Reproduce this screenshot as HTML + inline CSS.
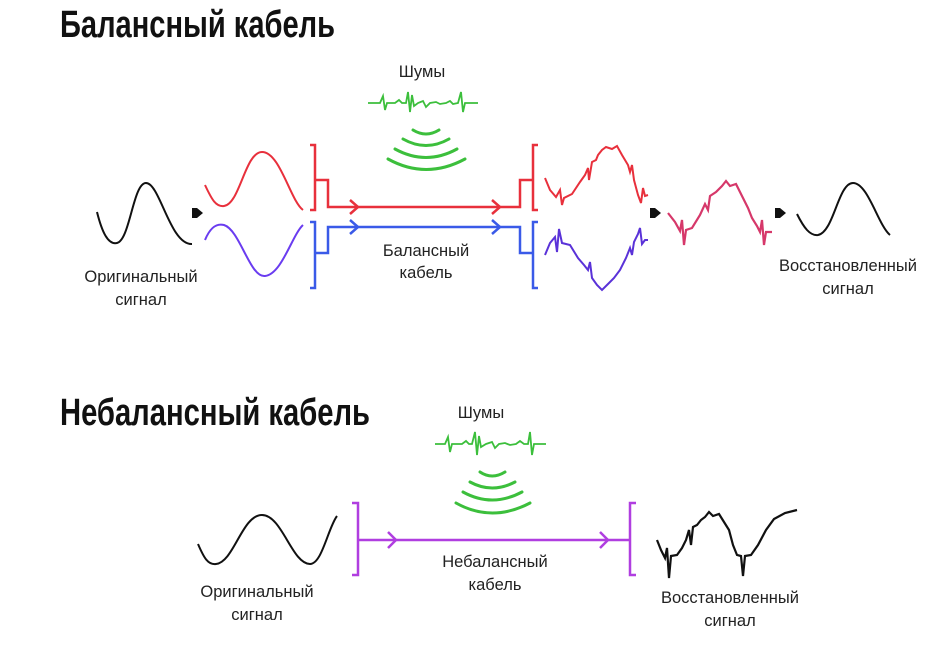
<!DOCTYPE html>
<html><head><meta charset="utf-8"><style>
html,body{margin:0;padding:0;background:#fff;width:952px;height:650px;overflow:hidden}
svg{display:block}
.t{font-family:"Liberation Sans",sans-serif;font-size:16.5px;fill:#222;text-anchor:middle}
.h{font-family:"Liberation Sans Narrow","Liberation Sans",sans-serif;font-weight:bold;font-size:38px;fill:#111}
</style></head><body>
<svg width="952" height="650" viewBox="0 0 952 650" xmlns="http://www.w3.org/2000/svg">
<text class="h" x="60" y="37" textLength="275" lengthAdjust="spacingAndGlyphs">Балансный кабель</text>
<text class="h" x="60" y="425" textLength="310" lengthAdjust="spacingAndGlyphs">Небалансный кабель</text>

<!-- TOP -->
<path d="M97,212 C102,232 108,245 117,243 C130,240 133,183 146,183 C160,183 170,245 192,244" fill="none" stroke="#111" stroke-width="2"/>
<path d="M192,208 l5,0 l6,5 l-6,5 l-5,0z" fill="#111"/>
<text class="t" x="141" y="282">Оригинальный</text>
<text class="t" x="141" y="305">сигнал</text>

<path d="M205,185 C212,200 216,207 224,206 C240,204 245,152 262,152 C280,152 290,200 303,210" fill="none" stroke="#e8303c" stroke-width="2"/>
<path d="M205,240 C210,228 216,223 224,225 C240,230 250,278 265,276 C282,274 292,235 303,225" fill="none" stroke="#6a3cf0" stroke-width="2"/>

<g fill="none" stroke="#e8303c" stroke-width="2.5">
<path d="M310,145 H315 V210 H310"/>
<path d="M315,180 H328 V207 H520 V180 H533"/>
<path d="M538,145 H533 V210 H538"/>
<path d="M350,200 l8,7 l-8,7 M492,200 l8,7 l-8,7"/>
</g>
<g fill="none" stroke="#3a5ae8" stroke-width="2.5">
<path d="M310,222 H315 V288 H310"/>
<path d="M315,253 H328 V227 H520 V253 H533"/>
<path d="M538,222 H533 V288 H538"/>
<path d="M350,220 l8,7 l-8,7 M492,220 l8,7 l-8,7"/>
</g>
<text class="t" x="426" y="256">Балансный</text>
<text class="t" x="426" y="278">кабель</text>

<!-- noise top -->
<text class="t" x="422" y="77">Шумы</text>
<polyline points="368,103 380,103 383,96 385,110 387,103 395,103 399,100 402,103 406,103 408,92 410,112 412,95 414,106 418,103 423,101 426,107 430,103 436,102 440,104 446,103 450,101 453,104 458,103 461,92 463,112 465,103 478,103" fill="none" stroke="#3cbf3c" stroke-width="1.8"/>
<g fill="none" stroke="#3cbf3c" stroke-width="3" stroke-linecap="round">
<path d="M413,130 Q426,138 439,130"/>
<path d="M403,139 Q426,152 449,139"/>
<path d="M395,149 Q426,166 457,149"/>
<path d="M388,159 Q426,180 465,159"/>
</g>

<!-- noisy red/blue -->
<polyline points="545,178 550,190 556,197 560,190 562,205 564,198 572,194 580,182 585,175 588,168 589,180 592,162 596,160 598,155 602,150 606,147 612,149 617,146 622,155 628,165 630,172 632,165 634,180 638,195 641,203 643,188 645,196 648,195" fill="none" stroke="#e8303c" stroke-width="2"/>
<polyline points="545,255 550,243 555,237 557,252 559,229 562,243 570,245 578,258 584,265 588,270 590,262 592,278 597,285 602,290 608,284 614,278 620,270 626,258 630,248 632,255 634,242 638,234 640,228 642,244 645,240 648,240" fill="none" stroke="#5a32d8" stroke-width="2"/>
<path d="M650,208 l5,0 l6,5 l-6,5 l-5,0z" fill="#111"/>
<polyline points="668,213 675,222 680,231 682,220 684,245 686,230 692,228 700,215 705,204 708,210 710,196 716,192 722,186 726,181 730,186 736,184 742,196 748,208 752,218 757,226 760,232 762,220 764,245 766,232 772,232" fill="none" stroke="#d6386a" stroke-width="2.2"/>
<path d="M775,208 l5,0 l6,5 l-6,5 l-5,0z" fill="#111"/>
<path d="M797,214 C804,228 810,236 818,235 C834,232 838,183 853,183 C868,183 878,225 890,235" fill="none" stroke="#111" stroke-width="2"/>
<text class="t" x="848" y="271">Восстановленный</text>
<text class="t" x="848" y="294">сигнал</text>

<!-- BOTTOM -->
<path d="M198,544 C204,558 208,565 216,564 C234,562 242,515 262,515 C282,515 292,564 310,564 C322,564 328,528 337,516" fill="none" stroke="#111" stroke-width="2"/>
<text class="t" x="257" y="597">Оригинальный</text>
<text class="t" x="257" y="620">сигнал</text>

<g fill="none" stroke="#b03ee0" stroke-width="2.5">
<path d="M352,503 H358 V575 H352"/>
<path d="M358,540 H630"/>
<path d="M636,503 H630 V575 H636"/>
<path d="M388,532 l8,8 l-8,8 M600,532 l8,8 l-8,8"/>
</g>
<text class="t" x="495" y="567">Небалансный</text>
<text class="t" x="495" y="590">кабель</text>

<text class="t" x="481" y="418">Шумы</text>
<polyline points="435,444 445,444 448,437 450,452 452,444 462,444 466,441 469,444 472,444 475,432 477,455 479,436 481,447 486,444 492,442 495,448 499,444 505,443 510,445 516,444 520,441 524,444 528,444 530,432 532,455 534,444 546,444" fill="none" stroke="#3cbf3c" stroke-width="1.8"/>
<g fill="none" stroke="#3cbf3c" stroke-width="3" stroke-linecap="round">
<path d="M480,472 Q492,480 505,472"/>
<path d="M470,482 Q492,494 515,482"/>
<path d="M463,492 Q492,508 522,492"/>
<path d="M456,503 Q492,523 530,503"/>
</g>

<polyline points="657,540 661,550 665,558 667,548 669,578 671,556 677,555 682,548 686,540 689,530 691,545 693,527 697,525 701,520 705,517 709,512 713,516 719,514 724,522 729,530 733,545 737,555 741,556 743,576 745,556 751,555 758,545 766,530 774,519 785,513 797,510" fill="none" stroke="#111" stroke-width="2.2"/>
<text class="t" x="730" y="603">Восстановленный</text>
<text class="t" x="730" y="626">сигнал</text>
</svg>
</body></html>
